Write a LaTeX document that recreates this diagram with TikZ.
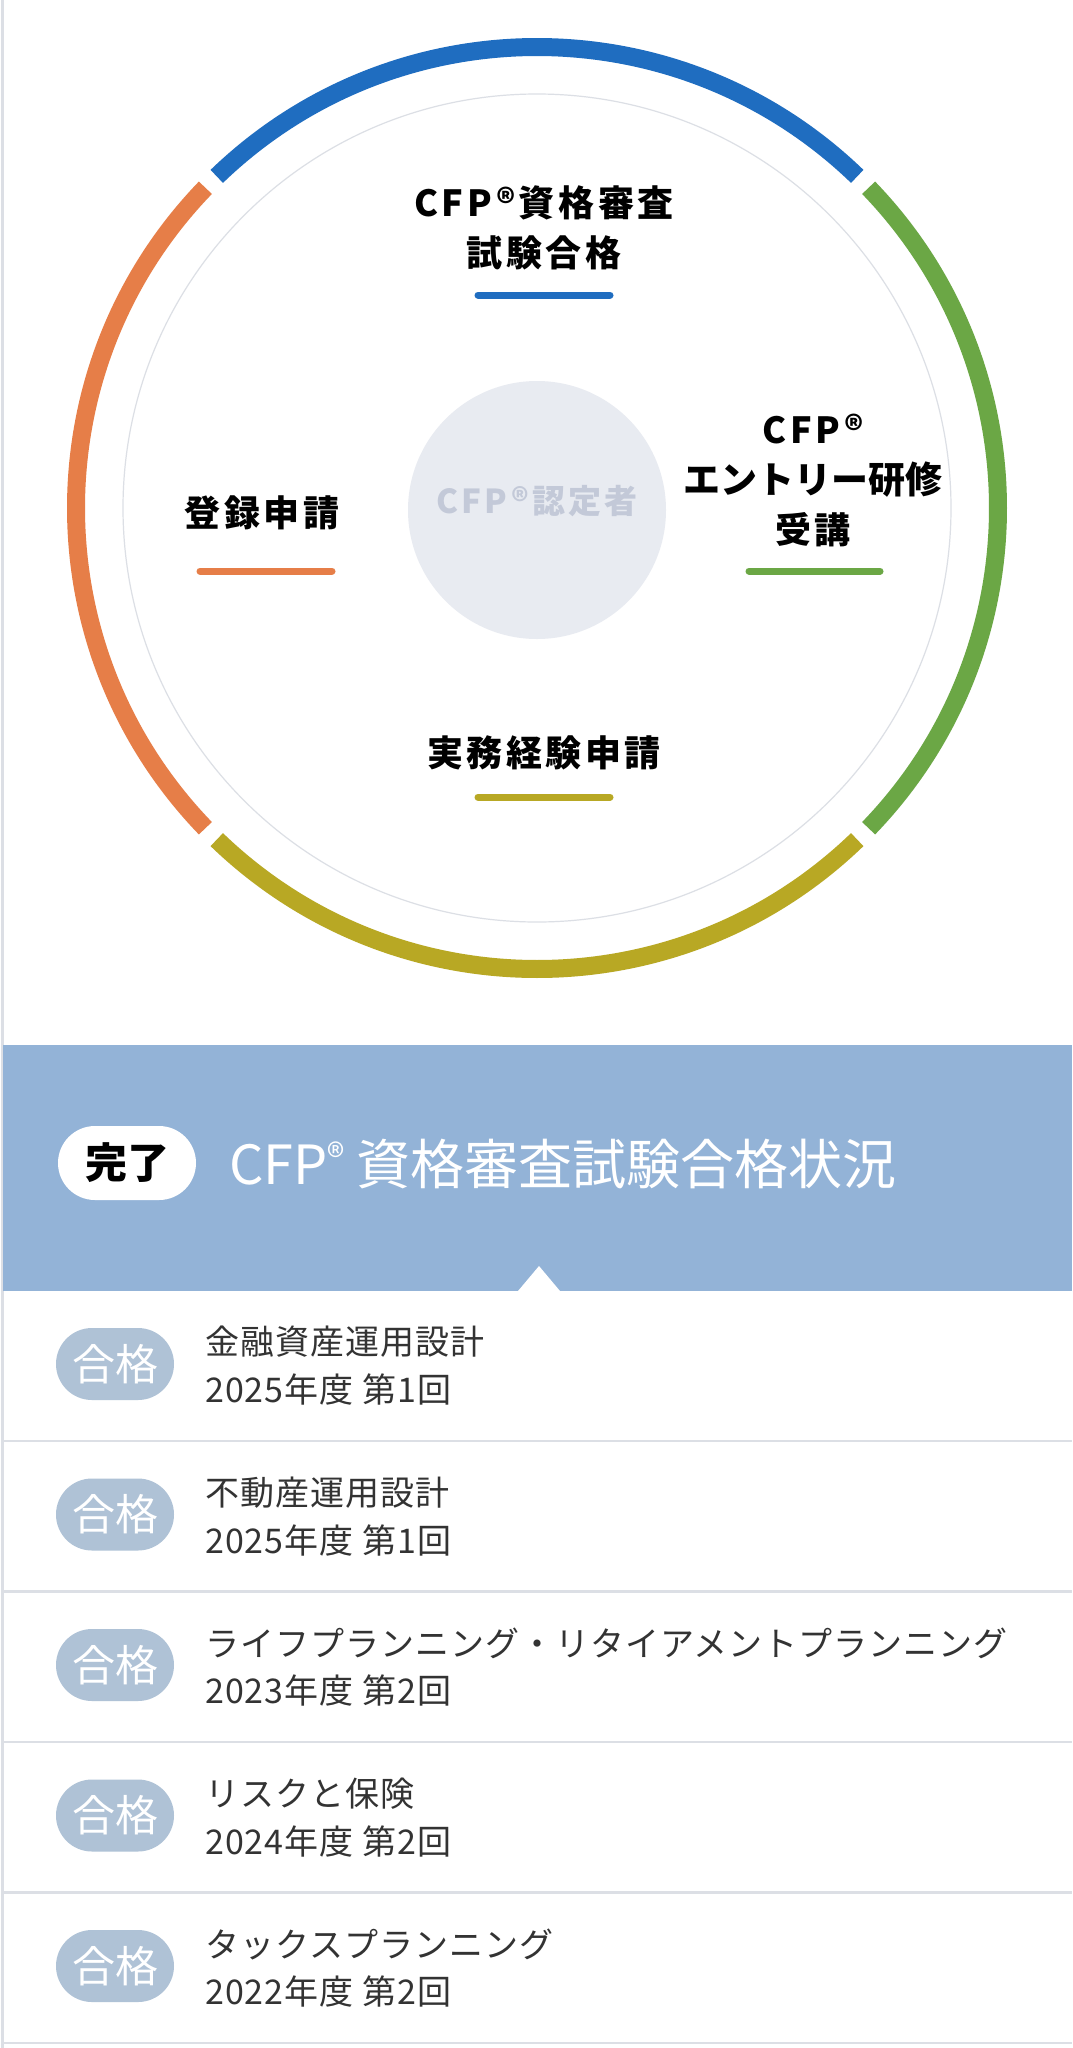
\documentclass[tikz,border=0pt]{standalone}
\usepackage{fontspec}
\setmainfont{Noto Sans CJK JP}
\newfontfamily\jpsp{Noto Sans CJK JP}[LetterSpace=10]
\newfontfamily\jpsl{Noto Sans CJK JP}[LetterSpace=3]
\newfontfamily\jpn{Noto Sans CJK JP}
\definecolor{cblue}{HTML}{1F6DC0}
\definecolor{cgreen}{HTML}{6BA745}
\definecolor{cyel}{HTML}{B8A824}
\definecolor{corg}{HTML}{E67E48}
\definecolor{band}{HTML}{93B3D7}
\definecolor{badge}{HTML}{AFC2D6}
\definecolor{sep}{HTML}{DCDFE5}
\definecolor{ctr}{HTML}{E8EBF1}
\definecolor{ctrtxt}{HTML}{C3C9D8}
\definecolor{txt}{HTML}{333333}
\tikzset{
 ring/.style={line width=18pt},
 bar/.style={line width=7pt,line cap=round},
 lbl/.style={font=\jpsp\bfseries\fontsize{36}{50}\selectfont,align=center,text=black,inner sep=0},
 bdg/.style={fill=badge,rounded corners=36pt,minimum width=118pt,minimum height=72pt,inner sep=0,text=white,font=\fontsize{43}{44}\selectfont},
 rowt/.style={anchor=west,inner sep=0,text=txt,font=\jpsl\fontsize{34}{40}\selectfont},
}
\begin{document}
\begin{tikzpicture}[x=1pt,y=-1pt]
\useasboundingbox (0,0) rectangle (1072,2048);
\fill[white] (0,0) rectangle (1072,2048);
\draw[line width=3pt,sep] (2,0) -- (2,2048);
% ring (y axis points down, so angles are mirrored)
\coordinate (c) at (537,508);
\draw[ring,cyel] (c) ++(134:461) arc[start angle=134,end angle=46,radius=461];
\draw[ring,cgreen] (c) ++(44:461) arc[start angle=44,end angle=-44,radius=461];
\draw[ring,cblue] (c) ++(-46:461) arc[start angle=-46,end angle=-134,radius=461];
\draw[ring,corg] (c) ++(-136:461) arc[start angle=-136,end angle=-224,radius=461];
\draw[line width=1.2pt,sep] (c) circle[radius=414];
\fill[ctr] (537,510) circle[radius=129];
\node[font=\jpsp\bfseries\fontsize{33}{40}\selectfont,text=ctrtxt,inner sep=0] (ctr) at (537,501) {CFP®認定者};
% labels
\node[lbl] (top) at (544,228) {CFP®資格審査\\試験合格};
\draw[bar,cblue] (478,295) -- (610,295);
\node[lbl] (left) at (262,513) {登録申請};
\draw[bar,corg] (200,571) -- (332,571);
\node[lbl] (right) at (813,480) {CFP®\\{\jpn\bfseries\fontsize{37}{50}\selectfont エントリー研修}\\受講};
\draw[bar,cgreen] (749,571) -- (880,571);
\node[lbl] (bottom) at (544,753) {実務経験申請};
\draw[bar,cyel] (478,797) -- (610,797);
% band
\fill[band] (3,1045) rectangle (1072,1291);
\fill[white] (518,1291) -- (539,1266) -- (560,1291) -- cycle;
\node[fill=white,rounded corners=37pt,minimum width=138pt,minimum height=74pt,inner sep=0,font=\bfseries\fontsize{42}{42}\selectfont] (done) at (127,1163) {完了};
\node[anchor=west,inner sep=0,text=white,font=\fontsize{54}{54}\selectfont] (title) at (229,1164) {CFP{\fontsize{36}{36}\selectfont\raisebox{14pt}{®}} 資格審査試験合格状況};
% rows
\foreach \i/\a/\b in {0/金融資産運用設計/2025年度 第1回,1/不動産運用設計/2025年度 第1回,2/ライフプランニング・リタイアメントプランニング/2023年度 第2回,3/リスクと保険/2024年度 第2回,4/タックスプランニング/2022年度 第2回}{
 \node[bdg] (b\i) at (115,1364+150.5*\i) {合格};
 \node[rowt] (t\i) at (205,1342+150.5*\i) {\a};
 \node[rowt] (u\i) at (205,1390+150.5*\i) {\b};
 \draw[line width=2.5pt,sep] (3,1441+150.5*\i) -- (1072,1441+150.5*\i);
}
\end{tikzpicture}
\end{document}
